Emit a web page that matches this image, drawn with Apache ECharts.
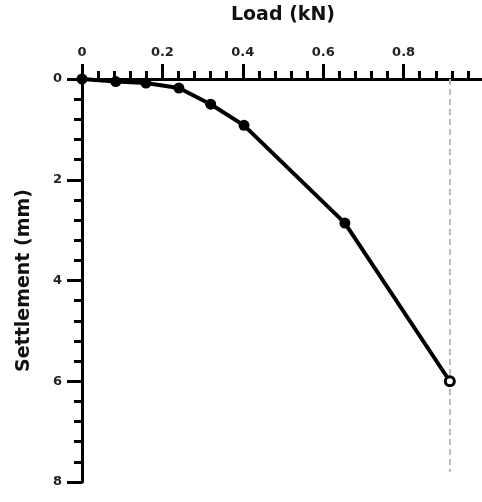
<!DOCTYPE html>
<html>
<head>
<meta charset="utf-8">
<script src="https://cdn.jsdelivr.net/npm/echarts@6/dist/echarts.min.js"></script>
<style>
  html, body { margin: 0; padding: 0; background: #fff; }
  #chart { width: 482px; height: 502px; }
</style>
</head>
<body>
<div id="chart"></div>
<script>
// load (kN) vs settlement (mm)
const loads = [0, 0.084, 0.159, 0.241, 0.32, 0.403, 0.654, 0.915]
const settlements = [0, 0.05, 0.08, 0.18, 0.5, 0.92, 2.86, 6.0]
// vertical dashed guide at the last load
const guideX = 0.915
const guideY = [0, 7.8]

let chart = echarts.init(document.getElementById('chart'))

let pts = loads.map((x, i) => {
  let p = { value: [x, settlements[i]] }
  if (i === loads.length - 1) {
    // last point drawn hollow
    p.itemStyle = { color: '#fff', borderColor: '#000', borderWidth: 3 }
    p.symbolSize = 9
  }
  return p
})

let font = 'DejaVu Sans'

let option = {
  animation: false,
  grid: {
    left: 82,
    top: 79,
    width: 402,
    height: 403,
    outerBoundsMode: 'none'
  },
  xAxis: {
    type: 'value',
    position: 'top',
    min: 0,
    max: 1,
    interval: 0.2,
    name: 'Load (kN)',
    nameLocation: 'middle',
    nameGap: 54,
    nameTextStyle: { fontFamily: font, fontWeight: 'bold', fontSize: 19, color: '#111' },
    axisLine: { lineStyle: { color: '#000', width: 3 } },
    axisTick: { show: true, length: 15, lineStyle: { color: '#000', width: 3 } },
    minorTick: { show: true, splitNumber: 5, length: 8, lineStyle: { color: '#000', width: 3 } },
    axisLabel: {
      margin: 20,
      fontFamily: font,
      fontWeight: 'bold',
      fontSize: 13,
      color: '#222',
      formatter: (v) => (v >= 0.99 ? '' : String(Math.round(v * 10) / 10))
    },
    splitLine: { show: false }
  },
  yAxis: {
    type: 'value',
    inverse: true,
    min: 0,
    max: 8,
    interval: 2,
    name: 'Settlement (mm)',
    nameLocation: 'middle',
    nameGap: 48,
    nameTextStyle: { fontFamily: font, fontWeight: 'bold', fontSize: 19, color: '#111' },
    axisLine: { lineStyle: { color: '#000', width: 3 } },
    axisTick: { show: true, length: 15, lineStyle: { color: '#000', width: 3 } },
    minorTick: { show: true, splitNumber: 5, length: 8, lineStyle: { color: '#000', width: 3 } },
    axisLabel: {
      margin: 20,
      fontFamily: font,
      fontWeight: 'bold',
      fontSize: 13,
      color: '#222'
    },
    splitLine: { show: false }
  },
  series: [
    {
      type: 'line',
      data: pts,
      symbol: 'circle',
      symbolSize: 11,
      showAllSymbol: true,
      lineStyle: { color: '#000', width: 4 },
      itemStyle: { color: '#000' },
      z: 5,
      markLine: {
        silent: true,
        symbol: ['none', 'none'],
        lineStyle: { color: '#bbb', type: [6, 4], width: 2 },
        label: { show: false },
        data: [[{ coord: [guideX, guideY[0]] }, { coord: [guideX, guideY[1]] }]],
        z: 1
      }
    }
  ]
}

chart.setOption(option)
</script>
</body>
</html>
